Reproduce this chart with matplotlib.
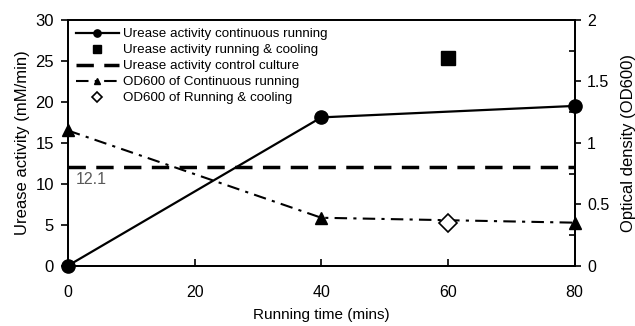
import numpy as np
import matplotlib.pyplot as plt

plt.rcParams['font.family'] = ['Liberation Sans', 'DejaVu Sans']

# running time (mins)
t_cont = [0, 40, 80]
urease_cont = [0, 18.1, 19.5]

t_cool = [60]
urease_cool = [25.4]

control_value = 12.1
t_control = [0, 80]

t_od = [0, 40, 80]
od_cont = [1.1, 0.39, 0.35]

t_od_cool = [60]
od_cool = [0.345]

fig = plt.figure(figsize=(6.35, 3.26), dpi=100)
ax = fig.add_axes([0.107, 0.185, 0.798, 0.754])
ax2 = ax.twinx()

l1, = ax.plot(t_cont, urease_cont, '-', color='black', lw=1.6, marker='o', ms=9.5,
              clip_on=False, zorder=5, label='Urease activity continuous running')
l2, = ax.plot(t_cool, urease_cool, 's', color='black', ms=9.5, clip_on=False, zorder=5,
              label='Urease activity running & cooling')
l3, = ax.plot(t_control, [control_value, control_value], '--', color='black', lw=2.5,
              dashes=(5, 3), label='Urease activity control culture')
ax.text(1.3, 10.0, '12.1', color='#595959', fontsize=11.5)

l4, = ax2.plot(t_od, od_cont, color='black', lw=1.5, dashes=(6, 3, 1.5, 3), marker='^',
               ms=8.5, clip_on=False, zorder=5, label='OD600 of Continuous running')
l5, = ax2.plot(t_od_cool, od_cool, 'D', mfc='white', mec='black', mew=1.2, ms=9,
               clip_on=False, zorder=6, label='OD600 of Running & cooling')

ax.set_xlim(0, 80)
ax.set_ylim(0, 30)
ax2.set_ylim(0, 2)
ax.set_xticks([0, 20, 40, 60, 80])
ax.set_yticks([0, 5, 10, 15, 20, 25, 30])
ax2.set_yticks([0, 0.5, 1, 1.5, 2])
ax2.set_yticklabels(['0', '0.5', '1', '1.5', '2'])
ax2.set_yticks([0.25, 0.75, 1.25, 1.75], minor=True)

ax.tick_params(axis='x', direction='in', length=5, width=1.2, labelsize=11.5, pad=14)
ax.tick_params(axis='y', direction='out', length=5, width=1.2, labelsize=12, pad=5)
ax2.tick_params(axis='y', which='major', direction='out', length=4, width=1.2,
                labelsize=11.5, pad=5)
ax2.tick_params(axis='y', which='minor', direction='in', length=4, width=1.2)

for a in (ax, ax2):
    for s in a.spines.values():
        s.set_linewidth(1.3)

ax.set_xlabel('Running time (mins)', fontsize=11, labelpad=6)
ax.set_ylabel('Urease activity (mM/min)', fontsize=12, labelpad=4)
ax2.set_ylabel('Optical density (OD600)', fontsize=12, labelpad=8)

leg = ax.legend(handles=[l1, l2, l3, l4, l5], loc='upper left', frameon=False,
                fontsize=9.6, handlelength=3.2, handletextpad=0.35, labelspacing=0.28,
                markerscale=0.55, borderaxespad=0.2, borderpad=0.4)
leg.set_zorder(10)

fig.savefig('out.png', dpi=100)
